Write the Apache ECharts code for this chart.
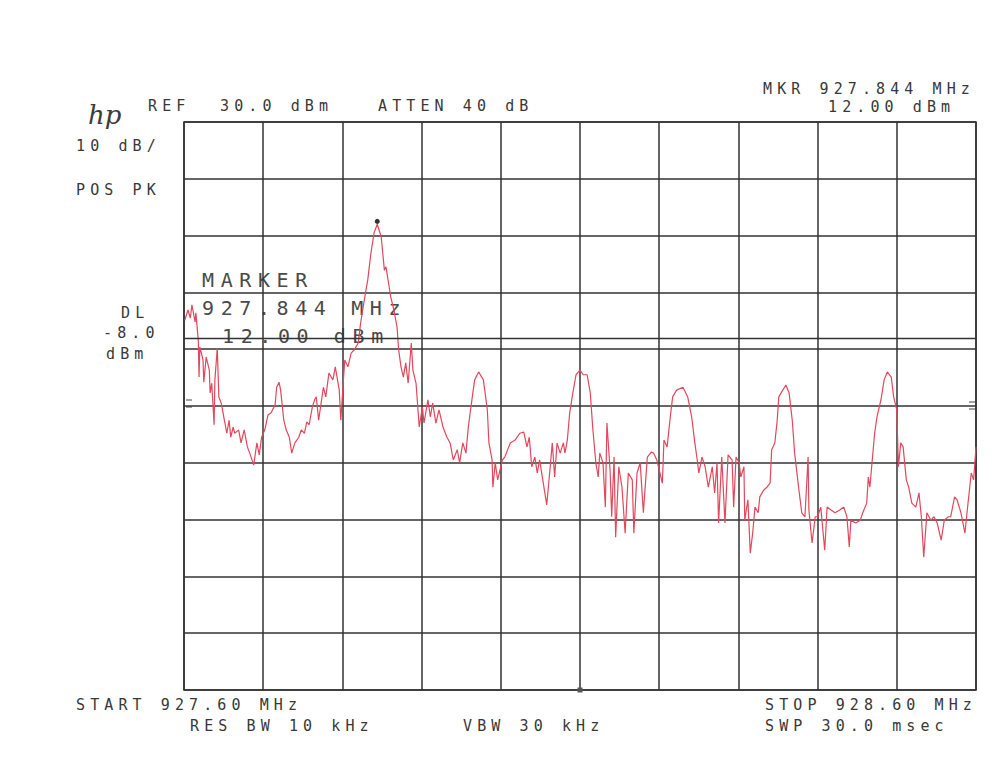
<!DOCTYPE html>
<html>
<head>
<meta charset="utf-8">
<script src="https://cdn.jsdelivr.net/npm/echarts@6/dist/echarts.min.js"></script>
<style>
  html, body { margin: 0; padding: 0; background: #fff; }
  #chart { width: 998px; height: 768px; }
  /* plotter lettering is widely spaced */
  #chart text[style*="15px"] { letter-spacing: 5.1px; }
  #chart text[style*="20px"] { letter-spacing: 6.6px; }
</style>
</head>
<body>
<div id="chart"></div>
<script>
// sweep: 927.60 .. 928.60 MHz, ref 30 dBm, 10 dB/div
let startMHz = 927.6;
let stopMHz = 928.6;
let refDbm = 30;
let bottomDbm = -70;
let displayLine = -8.0;
let markerMHz = 927.844;
let markerDbm = 12.0;
let centerMHz = 928.1;

// trace
let freqMHz = [
  927.601, 927.605, 927.608, 927.610, 927.614, 927.615, 927.618, 927.619, 927.620, 927.624,
  927.625, 927.628, 927.632, 927.633, 927.635, 927.638, 927.639, 927.642, 927.644, 927.647,
  927.651, 927.654, 927.657, 927.659, 927.662, 927.664, 927.669, 927.672, 927.676, 927.680,
  927.683, 927.688, 927.692, 927.695, 927.698, 927.702, 927.706, 927.710, 927.715, 927.717,
  927.720, 927.722, 927.726, 927.729, 927.733, 927.736, 927.740, 927.745, 927.748, 927.752,
  927.755, 927.758, 927.762, 927.765, 927.767, 927.770, 927.776, 927.779, 927.783, 927.788,
  927.791, 927.796, 927.798, 927.801, 927.803, 927.807, 927.811, 927.815, 927.820, 927.823,
  927.827, 927.832, 927.836, 927.840, 927.844, 927.849, 927.853, 927.855, 927.859, 927.861,
  927.865, 927.869, 927.871, 927.874, 927.877, 927.880, 927.883, 927.887, 927.889, 927.893,
  927.897, 927.901, 927.903, 927.908, 927.911, 927.914, 927.918, 927.922, 927.927, 927.932,
  927.936, 927.940, 927.945, 927.948, 927.952, 927.956, 927.959, 927.964, 927.967, 927.972,
  927.978, 927.983, 927.985, 927.989, 927.990, 927.993, 927.996, 928.002, 928.005, 928.012,
  928.018, 928.024, 928.029, 928.033, 928.036, 928.039, 928.043, 928.046, 928.049, 928.053,
  928.058, 928.062, 928.065, 928.068, 928.071, 928.075, 928.079, 928.081, 928.084, 928.087,
  928.091, 928.095, 928.100, 928.104, 928.109, 928.113, 928.116, 928.120, 928.123, 928.125,
  928.129, 928.132, 928.134, 928.138, 928.140, 928.143, 928.145, 928.149, 928.153, 928.157,
  928.161, 928.166, 928.168, 928.172, 928.176, 928.180, 928.185, 928.190, 928.193, 928.197,
  928.201, 928.204, 928.206, 928.210, 928.214, 928.217, 928.222, 928.230, 928.236, 928.241,
  928.245, 928.248, 928.250, 928.254, 928.258, 928.262, 928.267, 928.270, 928.273, 928.275,
  928.279, 928.283, 928.287, 928.292, 928.294, 928.297, 928.301, 928.303, 928.307, 928.308,
  928.312, 928.315, 928.318, 928.321, 928.325, 928.327, 928.332, 928.336, 928.340, 928.342,
  928.346, 928.349, 928.351, 928.356, 928.360, 928.364, 928.368, 928.371, 928.376, 928.380,
  928.384, 928.388, 928.389, 928.393, 928.397, 928.400, 928.404, 928.409, 928.412, 928.417,
  928.422, 928.428, 928.433, 928.437, 928.440, 928.442, 928.448, 928.454, 928.457, 928.462,
  928.464, 928.466, 928.469, 928.472, 928.475, 928.480, 928.484, 928.488, 928.493, 928.496,
  928.500, 928.502, 928.505, 928.508, 928.512, 928.515, 928.519, 928.524, 928.528, 928.531,
  928.534, 928.538, 928.543, 928.547, 928.551, 928.556, 928.560, 928.565, 928.568, 928.573,
  928.576, 928.581, 928.586, 928.589, 928.594, 928.597, 928.600
];
let levelDbm = [
  -4.9, -3.1, -4.5, -2.2, -5.2, -3.6, -8.4, -14.9, -9.6, -11.9,
  -15.8, -11.4, -13.7, -17.7, -16.0, -23.3, -15.4, -9.8, -18.4, -19.5,
  -22.5, -24.8, -22.5, -25.5, -23.7, -24.8, -24.2, -26.5, -24.2, -27.2,
  -28.3, -30.4, -26.5, -28.6, -25.5, -24.2, -21.6, -21.2, -19.8, -16.7,
  -15.8, -17.2, -22.5, -24.2, -25.5, -28.3, -26.5, -25.5, -24.2, -24.8,
  -22.8, -23.3, -20.2, -18.9, -18.4, -22.5, -16.7, -18.4, -14.2, -15.4,
  -13.1, -17.2, -22.5, -16.0, -11.9, -13.1, -10.7, -10.1, -8.9, -5.4,
  -1.9, 2.2, 6.9, 10.5, 12.0, 9.8, 3.9, 4.5, 1.0, -0.8,
  -3.1, -6.1, -10.1, -13.1, -14.9, -12.4, -16.0, -8.9, -13.7, -16.0,
  -23.7, -20.2, -23.0, -18.9, -21.9, -19.5, -23.0, -20.7, -23.7, -25.5,
  -26.5, -29.5, -27.7, -30.0, -26.5, -28.3, -23.7, -18.4, -15.4, -14.0,
  -15.4, -20.7, -26.5, -29.5, -34.3, -30.0, -33.0, -29.5, -29.0, -26.5,
  -26.0, -24.8, -24.6, -27.2, -25.5, -30.7, -29.0, -31.8, -29.5, -33.0,
  -37.4, -31.3, -26.5, -32.5, -26.5, -28.3, -26.5, -28.3, -26.0, -21.2,
  -17.7, -14.5, -13.7, -14.5, -14.5, -17.7, -23.7, -30.0, -32.5, -28.3,
  -30.0, -37.8, -23.0, -31.3, -39.5, -29.0, -43.1, -30.7, -34.3, -42.4,
  -31.8, -33.0, -42.4, -31.8, -30.0, -38.8, -29.0, -28.1, -28.3, -29.5,
  -31.8, -33.6, -26.0, -27.2, -21.9, -18.4, -17.2, -16.7, -18.4, -21.9,
  -26.5, -29.5, -31.8, -29.0, -30.7, -34.3, -30.7, -35.3, -30.0, -40.6,
  -29.0, -40.6, -28.6, -29.5, -37.8, -29.0, -30.0, -32.5, -30.7, -40.1,
  -36.5, -45.9, -42.4, -37.8, -38.8, -36.0, -34.8, -34.3, -33.6, -27.7,
  -26.5, -22.5, -18.4, -17.2, -16.3, -17.7, -22.5, -28.3, -34.3, -38.8,
  -39.5, -29.0, -38.3, -44.1, -39.5, -39.5, -37.8, -45.4, -37.8, -38.3,
  -38.8, -38.3, -37.8, -39.5, -44.8, -40.1, -40.6, -40.1, -38.8, -37.1,
  -32.5, -34.3, -29.5, -24.8, -21.9, -18.9, -15.4, -14.0, -14.9, -18.4,
  -20.7, -30.7, -26.5, -27.2, -33.0, -34.3, -37.1, -37.8, -35.3, -39.5,
  -46.6, -38.8, -40.1, -39.5, -40.6, -43.6, -40.1, -39.5, -39.5, -36.0,
  -36.5, -38.8, -42.4, -38.3, -31.8, -33.0, -27.2
];

// annotation texts printed by the analyser
let headerLabels = [
  {text: 'REF', x: 148, y: 106},
  {text: '30.0 dBm', x: 220, y: 106},
  {text: 'ATTEN 40 dB', x: 378, y: 106},
  {text: 'MKR 927.844 MHz', x: 763, y: 89},
  {text: '12.00 dBm', x: 828, y: 107},
  {text: '10 dB/', x: 76, y: 146},
  {text: 'POS PK', x: 76, y: 190},
  {text: 'DL', x: 121, y: 313},
  {text: '-8.0', x: 103, y: 333},
  {text: 'dBm', x: 106, y: 354},
  {text: 'START 927.60 MHz', x: 76, y: 705},
  {text: 'RES BW 10 kHz', x: 190, y: 726},
  {text: 'VBW 30 kHz', x: 463, y: 726},
  {text: 'STOP 928.60 MHz', x: 765, y: 705},
  {text: 'SWP 30.0 msec', x: 765, y: 726}
];
let markerLabels = [
  {text: 'MARKER', x: 202, y: 280},
  {text: '927.844 MHz', x: 202, y: 308},
  {text: '12.00 dBm', x: 222, y: 336}
];

let chart = echarts.init(document.getElementById('chart'), null, {renderer: 'svg'});

let trace = [];
for (let i = 0; i < freqMHz.length; i++) {
  trace.push([freqMHz[i], levelDbm[i]]);
}

let graphics = [];
headerLabels.forEach(function (l) {
  graphics.push({
    type: 'text', x: l.x, y: l.y, silent: true,
    style: {text: l.text, fill: '#383838', font: '15px "DejaVu Sans Mono"', textVerticalAlign: 'middle'}
  });
});
markerLabels.forEach(function (l) {
  graphics.push({
    type: 'text', x: l.x, y: l.y, silent: true,
    style: {text: l.text, fill: '#4a4a4a', font: '20px "DejaVu Sans Mono"', textVerticalAlign: 'middle'}
  });
});
graphics.push({
  type: 'text', x: 88, y: 115, silent: true,
  style: {text: 'hp', fill: '#3a3a3a', font: 'italic 26px "DejaVu Serif"', textVerticalAlign: 'middle'}
});
// small "=" reference ticks on both sides of the graticule
[[186, 192, 400], [186, 192, 407], [969, 976, 402], [969, 976, 409]].forEach(function (t) {
  graphics.push({
    type: 'line', silent: true,
    shape: {x1: t[0], y1: t[2], x2: t[1], y2: t[2]},
    style: {stroke: '#444', lineWidth: 1}
  });
});

let gridColor = '#333';

let option = {
  backgroundColor: '#fff',
  animation: false,
  grid: {
    left: 184, top: 122, width: 792, height: 568,
    show: true, borderColor: gridColor, borderWidth: 1.5
  },
  xAxis: {
    type: 'value',
    min: startMHz, max: stopMHz, interval: 0.1,
    axisLine: {show: false}, axisTick: {show: false}, axisLabel: {show: false},
    splitLine: {show: true, lineStyle: {color: gridColor, width: 1.5}}
  },
  yAxis: {
    type: 'value',
    min: bottomDbm, max: refDbm, interval: 10,
    axisLine: {show: false}, axisTick: {show: false}, axisLabel: {show: false},
    splitLine: {show: true, lineStyle: {color: gridColor, width: 1.5}}
  },
  graphic: graphics,
  series: [{
    type: 'line',
    data: trace,
    showSymbol: false,
    silent: true,
    lineStyle: {color: '#e3475c', width: 1.2},
    markLine: {
      silent: true,
      symbol: 'none',
      label: {show: false},
      lineStyle: {color: gridColor, width: 1.3, type: 'solid'},
      data: [{yAxis: displayLine}]
    },
    markPoint: {
      silent: true,
      label: {show: false},
      data: [
        {coord: [markerMHz, markerDbm + 0.5], symbol: 'circle', symbolSize: 5, itemStyle: {color: '#333'}},
        {coord: [centerMHz, bottomDbm], symbol: 'rect', symbolSize: [5, 5], itemStyle: {color: '#555'}}
      ]
    }
  }]
};

chart.setOption(option);
</script>
</body>
</html>
